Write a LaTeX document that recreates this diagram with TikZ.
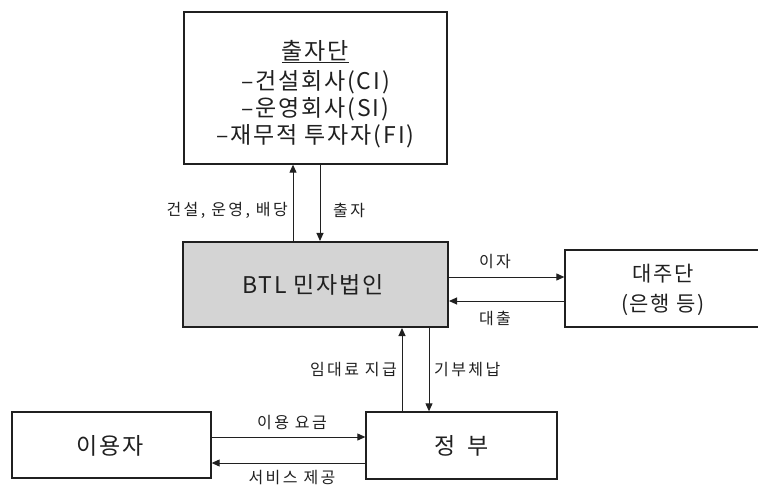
\documentclass[tikz,border=0pt]{standalone}
\usepackage{fontspec}
\setmainfont{Noto Sans CJK KR}[LetterSpace=8]
\newfontfamily\labfont{Noto Sans CJK KR}[LetterSpace=15]
\usetikzlibrary{arrows.meta}
\definecolor{btlgray}{HTML}{D4D4D4}
\definecolor{inkc}{HTML}{202020}
\begin{document}
\begin{tikzpicture}[x=1bp,y=-1bp,
  boxline/.style={draw=inkc,line width=1.3bp},
  conn/.style={draw=inkc,line width=1bp,-{Triangle[length=8bp,width=7bp]}},
  big/.style={font=\fontsize{23bp}{27bp}\selectfont,text=inkc,inner sep=0pt,align=center},
  mid/.style={font=\fontsize{21bp}{30bp}\selectfont,text=inkc,inner sep=0pt,align=center},
  lab/.style={font=\labfont\fontsize{16bp}{18bp}\selectfont,text=inkc,inner sep=0pt}]
\useasboundingbox (0,0) rectangle (758,487);
\clip (0,0) rectangle (758,487);
% boxes
\node[boxline,minimum width=263bp,minimum height=152bp,inner sep=0pt] (A) at (315.5,88) {};
\node[big] (At) at (315.5,94) {\underline{출자단}\\[3bp]–건설회사(CI)\\–운영회사(SI)\\–재무적 투자자(FI)};
\node[draw=inkc,line width=2bp,fill=btlgray,minimum width=265bp,minimum height=85bp,inner sep=0pt] (B) at (315.5,284.5) {};
\node[big] (Bt) at (313,285) {BTL 민자법인};
\node[boxline,minimum width=197bp,minimum height=77bp,inner sep=0pt] (C) at (663.5,288.5) {};
\node[mid] (Ct) at (663,290) {대주단\\(은행 등)};
\node[boxline,minimum width=199bp,minimum height=66bp,inner sep=0pt] (D) at (111.5,445) {};
\node[big] (Dt) at (110,446) {이용자};
\node[boxline,minimum width=191bp,minimum height=67bp,inner sep=0pt] (E) at (461.5,445.5) {};
\node[big] (Et) at (461.5,446) {정\hspace{12bp}부};
% connectors
\draw[conn] (B.north -| 293,0) -- (A.south -| 293,0);
\draw[conn] (A.south -| 320,0) -- (B.north -| 320,0);
\draw[conn] (B.east |- 0,277) -- (C.west |- 0,277);
\draw[conn] (C.west |- 0,301) -- (B.east |- 0,301);
\draw[conn] (E.north -| 402,0) -- (B.south -| 402,0);
\draw[conn] (B.south -| 429,0) -- (E.north -| 429,0);
\draw[conn] (D.east |- 0,437) -- (E.west |- 0,437);
\draw[conn] (E.west |- 0,463) -- (D.east |- 0,463);
% labels
\node[lab,anchor=east] (l1) at (288,210) {건설, 운영, 배당};
\node[lab,anchor=west] (l2) at (333,210) {출자};
\node[lab] (l3) at (495,262) {이자};
\node[lab] (l4) at (495,318) {대출};
\node[lab,anchor=east] (l5) at (397,370) {임대료 지급};
\node[lab,anchor=west] (l6) at (434,370) {기부체납};
\node[lab] (l7) at (292,423) {이용 요금};
\node[lab] (l8) at (292,478) {서비스 제공};
\end{tikzpicture}
\end{document}
